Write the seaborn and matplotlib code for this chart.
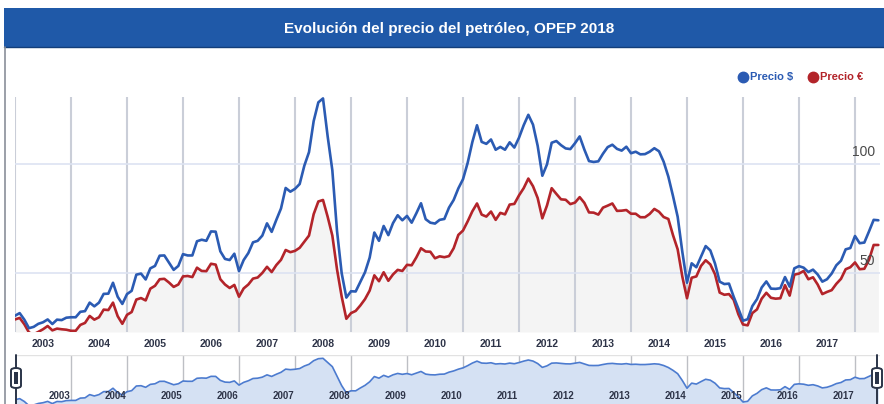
import numpy as np
import pandas as pd
import matplotlib
matplotlib.use("Agg")
import matplotlib.pyplot as plt
from matplotlib.patches import Rectangle, FancyBboxPatch
import seaborn as sns

# monthly OPEC basket price, Jan 2003 - Jun 2018
usd = [
    30.3, 31.5, 28.5, 24.6, 25.2, 26.6, 27.3, 28.6, 26.5, 28.5, 28.3, 29.4,
    29.6, 29.6, 32.1, 32.4, 36.3, 34.6, 36.3, 40.3, 40.4, 45.4, 39.0, 35.7,
    40.2, 41.7, 49.1, 49.6, 46.9, 52.0, 53.1, 57.8, 57.9, 54.6, 51.3, 53.1,
    58.5, 57.9, 57.9, 64.4, 65.1, 64.6, 68.9, 68.8, 59.8, 56.3, 55.8, 58.7,
    50.7, 55.8, 59.0, 63.9, 64.6, 67.0, 72.6, 68.7, 74.2, 79.4, 88.8, 87.1,
    88.4, 90.6, 99.0, 105.2, 119.4, 128.0, 129.8, 112.4, 96.9, 69.2, 49.8, 38.6,
    41.5, 41.4, 45.8, 50.2, 56.9, 68.4, 64.6, 71.4, 67.2, 72.7, 76.3, 74.0,
    76.0, 72.9, 77.2, 81.8, 74.5, 72.9, 72.5, 74.2, 74.6, 79.8, 83.3, 88.6,
    92.8, 100.3, 109.8, 117.5, 109.9, 109.0, 111.0, 106.3, 107.6, 106.3, 109.7, 107.3,
    111.8, 117.5, 122.3, 117.8, 108.1, 94.4, 99.6, 109.5, 110.3, 108.4, 106.9, 106.6,
    109.3, 112.4, 106.4, 101.1, 100.7, 101.0, 104.5, 107.5, 108.6, 106.7, 105.9, 107.7,
    104.7, 105.4, 104.2, 104.3, 105.4, 107.0, 105.6, 100.8, 94.0, 85.1, 75.6, 59.5,
    45.4, 54.3, 52.5, 57.3, 62.2, 60.2, 54.2, 45.9, 44.8, 45.0, 39.0, 33.6,
    28.0, 28.7, 34.7, 37.9, 43.2, 46.0, 42.7, 42.6, 42.9, 48.0, 43.6, 52.0,
    53.0, 52.3, 50.3, 51.4, 49.2, 45.9, 47.0, 49.6, 53.4, 55.5, 60.7, 61.3,
    66.8, 63.5, 63.8, 68.9, 74.2, 74.0,
]
eur = [
    28.6, 29.3, 26.4, 22.6, 21.8, 22.9, 24.1, 25.6, 23.6, 24.4, 24.1, 23.9,
    23.4, 23.4, 26.1, 27.0, 30.2, 28.5, 29.6, 33.1, 32.9, 36.3, 30.1, 26.6,
    30.7, 32.0, 37.7, 38.4, 37.3, 42.7, 44.0, 47.0, 47.2, 45.5, 43.5, 44.6,
    48.3, 48.5, 48.0, 52.3, 50.8, 50.7, 54.1, 53.7, 47.0, 44.6, 43.0, 44.4,
    39.0, 42.8, 44.6, 47.3, 47.8, 49.9, 52.7, 50.3, 53.5, 55.9, 60.4, 59.4,
    60.0, 61.4, 64.2, 67.0, 76.8, 82.6, 83.3, 75.6, 67.0, 51.6, 39.1, 28.9,
    31.5, 32.5, 35.0, 37.9, 41.8, 48.8, 46.1, 50.2, 46.3, 49.2, 51.3, 50.8,
    53.6, 53.4, 57.0, 61.2, 59.7, 59.6, 56.6, 57.5, 57.1, 57.6, 61.2, 67.3,
    69.3, 73.5, 78.1, 81.7, 76.6, 75.7, 78.0, 74.2, 77.4, 76.7, 81.2, 81.5,
    85.4, 88.7, 93.1, 89.6, 84.2, 74.9, 80.8, 88.7, 86.1, 83.6, 83.4, 81.4,
    82.1, 84.6, 82.0, 77.6, 77.5, 76.6, 79.8, 80.7, 81.7, 78.3, 78.4, 78.7,
    77.0, 77.0, 75.4, 75.4, 76.9, 79.2, 77.9, 75.5, 74.6, 67.2, 60.7, 48.2,
    38.3, 47.7, 48.3, 53.1, 55.7, 53.8, 49.3, 40.9, 39.9, 40.2, 37.6, 31.0,
    26.3, 25.9, 31.5, 33.2, 38.1, 40.8, 38.5, 38.1, 38.3, 44.3, 39.5, 49.1,
    49.6, 50.8, 47.0, 47.9, 44.6, 40.2, 41.2, 42.0, 44.9, 47.2, 51.6, 52.5,
    54.7, 51.6, 51.8, 55.9, 62.7, 62.7,
]
years = list(range(2003, 2018))
title = "Evolución del precio del petróleo, OPEP 2018"
series_names = ["Precio $", "Precio €"]

blue = "#2B5BB3"
red = "#B3242A"
W, H = 884, 404

sns.set_style("white")
plt.rcParams["font.family"] = ["Liberation Sans", "DejaVu Sans"]

months = pd.date_range("2003-01-01", periods=len(usd), freq="MS")
df = pd.DataFrame({
    "t": months.year + (months.month - 1) / 12,
    "usd": usd,
    "eur": eur,
})

fig = plt.figure(figsize=(W / 100, H / 100), dpi=100)

def fx(px):
    return px / W

def fy(py):
    return 1 - py / H

# title band + frame
fig.patches.append(Rectangle((fx(4), fy(47)), fx(880), 39 / H, transform=fig.transFigure,
                             facecolor="#1F59A8", edgecolor="none", zorder=0))
fig.add_artist(plt.Line2D([fx(4), fx(884)], [fy(47), fy(47)], color="#123E7A", lw=1))
fig.add_artist(plt.Line2D([fx(5), fx(5)], [0, fy(47)], color="#8A8F99", lw=1.2))
fig.text(fx(449), fy(29), title, color="white", fontsize=11, fontweight="bold",
         ha="center", va="center")

# main chart
x0, x1 = 2003, 2003 + (880 - 15) / 56
ax = fig.add_axes([fx(15), fy(332), fx(865), 235 / H])
ax.set_xlim(x0, x1)
ax.set_ylim(22.85, 130.45)
ax.fill_between(df["t"], df["eur"], 22.85, color="#F4F4F4", lw=0, zorder=1)
for y in years + [2018]:
    ax.axvline(y, color="#CACED8", lw=1.5, zorder=2)
for v in [50, 100]:
    ax.axhline(v, color="#DDE3F2", lw=1.2, zorder=2)
sns.lineplot(data=df, x="t", y="usd", ax=ax, color=blue, lw=1.9, zorder=4)
sns.lineplot(data=df, x="t", y="eur", ax=ax, color=red, lw=1.9, zorder=3)
for v in [50, 100]:
    ax.text(2018.357, v + 2.2, str(v), ha="right", va="bottom", fontsize=10, color="#4A4A4A")
for y in years:
    ax.text(y + 0.5, -0.053, str(y), transform=ax.get_xaxis_transform(), ha="center",
            va="center", fontsize=7.5, fontweight="bold", color="#2E3448")
ax.set_xticks([])
ax.set_yticks([])
ax.set_xlabel("")
ax.set_ylabel("")
sns.despine(ax=ax, left=True, bottom=True)

# legend
for cx, tx, name, c in [(743, 750, series_names[0], blue), (813, 820, series_names[1], red)]:
    fig.add_artist(plt.Line2D([fx(cx)], [fy(77)], marker="o", ms=7.5, color=c, ls=""))
    fig.text(fx(tx), fy(77), name, color=c, fontsize=8, fontweight="bold", va="center")

# navigator (log scale, like the original range selector)
nav = fig.add_axes([fx(15), 0, fx(865), 49 / H])
nav.set_xlim(x0, x1)
nav.set_yscale("log")
nav.set_ylim(26.1, 145.8)
nav.fill_between(df["t"], df["usd"], 1, color="#D5E1F3", lw=0)
sns.lineplot(data=df, x="t", y="usd", ax=nav, color="#4C7BCF", lw=1.2)
for y in years[1:] + [2018]:
    nav.axvline(y, color="#BDBFC4", lw=1.0, zorder=0.5)
nav.axhline(145.8, color="#E2E2E2", lw=1.0)
for y in years:
    nav.text(y + 0.98, 0.17, str(y), transform=nav.get_xaxis_transform(), ha="right",
             va="center", fontsize=7, fontweight="bold", color="#2E3448")
nav.set_xticks([])
nav.set_yticks([])
nav.minorticks_off()
nav.set_xlabel("")
nav.set_ylabel("")
sns.despine(ax=nav, left=True, bottom=True)

# range handles
for hx in [16, 877]:
    fig.add_artist(plt.Line2D([fx(hx), fx(hx)], [0, fy(355)], color="#2A3448", lw=1.4))
    fig.patches.append(FancyBboxPatch((fx(hx - 5), fy(388)), fx(10), 20 / H,
                                      boxstyle="round,pad=0,rounding_size=0.006",
                                      transform=fig.transFigure, facecolor="white",
                                      edgecolor="#2A3448", lw=1.4, zorder=5))
    fig.patches.append(Rectangle((fx(hx - 2), fy(384)), fx(4), 12 / H, transform=fig.transFigure,
                                 facecolor="#2A3448", edgecolor="none", zorder=6))

fig.savefig("out.png", dpi=100)
